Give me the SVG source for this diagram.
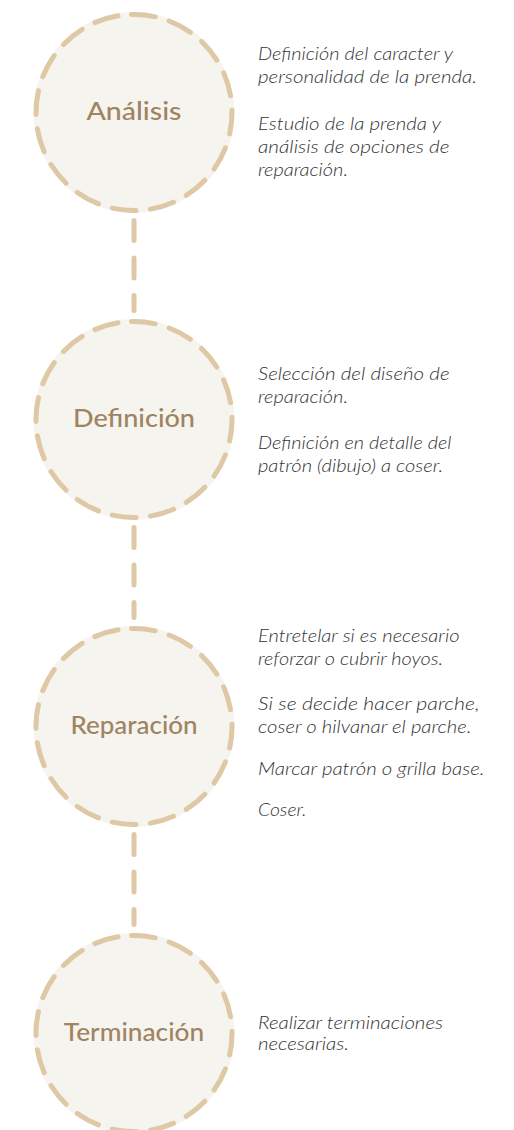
<svg xmlns="http://www.w3.org/2000/svg" width="514" height="1130" viewBox="0 0 514 1130">
<style>
.bg{fill:#f6f4ef;stroke:none}
.ring{fill:none;stroke:#dfc8a5;stroke-width:5;stroke-linecap:round;stroke-dasharray:24 14.48}
.conn{fill:none;stroke:#dfc8a5;stroke-width:5;stroke-linecap:round;stroke-dasharray:20 17.5}
.lbl{font-family:Lato,"Open Sans","Liberation Sans",sans-serif;font-weight:500;font-size:25px;fill:#a08361;text-anchor:middle}
.txt{font-family:Lato,"Open Sans","Liberation Sans",sans-serif;font-weight:300;font-style:italic;font-size:17.5px;fill:#333333}
</style>
<rect width="514" height="1130" fill="#ffffff"/>
<g id="connectors">
<line class="conn" x1="134" y1="220.5" x2="134" y2="310.5"/>
<line class="conn" x1="134" y1="527.5" x2="134" y2="617.5"/>
<line class="conn" x1="134" y1="834.5" x2="134" y2="924.5"/>
</g>
<g id="analisis">
<circle class="bg" cx="134" cy="112.5" r="100.5"/>
<circle class="ring" cx="134" cy="112.5" r="98" transform="rotate(-91.5 134 112.5)"/>
<text class="lbl" x="134" y="120" textLength="95" lengthAdjust="spacingAndGlyphs">Análisis</text>
</g>
<g id="analisis-text">
<text class="txt" x="258" y="59.5" textLength="195" lengthAdjust="spacingAndGlyphs">Definición del caracter y</text>
<text class="txt" x="258" y="83" textLength="219" lengthAdjust="spacingAndGlyphs">personalidad de la prenda.</text>
<text class="txt" x="258" y="129.5" textLength="183" lengthAdjust="spacingAndGlyphs">Estudio de la prenda y</text>
<text class="txt" x="258" y="152.5" textLength="191.5" lengthAdjust="spacingAndGlyphs">análisis de opciones de</text>
<text class="txt" x="258" y="175.5" textLength="90" lengthAdjust="spacingAndGlyphs">reparación.</text>
</g>
<g id="definicion">
<circle class="bg" cx="134" cy="419.5" r="100.5"/>
<circle class="ring" cx="134" cy="419.5" r="98" transform="rotate(-91.5 134 419.5)"/>
<text class="lbl" x="134" y="427" textLength="122" lengthAdjust="spacingAndGlyphs">Definición</text>
</g>
<g id="definicion-text">
<text class="txt" x="258" y="379.5" textLength="191.5" lengthAdjust="spacingAndGlyphs">Selección del diseño de</text>
<text class="txt" x="258" y="402.5" textLength="90" lengthAdjust="spacingAndGlyphs">reparación.</text>
<text class="txt" x="258" y="448.5" textLength="193.5" lengthAdjust="spacingAndGlyphs">Definición en detalle del</text>
<text class="txt" x="258" y="471.5" textLength="185" lengthAdjust="spacingAndGlyphs">patrón (dibujo) a coser.</text>
</g>
<g id="reparacion">
<circle class="bg" cx="134" cy="726.5" r="100.5"/>
<circle class="ring" cx="134" cy="726.5" r="98" transform="rotate(-91.5 134 726.5)"/>
<text class="lbl" x="134" y="734" textLength="127" lengthAdjust="spacingAndGlyphs">Reparación</text>
</g>
<g id="reparacion-text">
<text class="txt" x="258" y="641.5" textLength="201.5" lengthAdjust="spacingAndGlyphs">Entretelar si es necesario</text>
<text class="txt" x="258" y="664.5" textLength="185" lengthAdjust="spacingAndGlyphs">reforzar o cubrir hoyos.</text>
<text class="txt" x="258" y="710" textLength="221.5" lengthAdjust="spacingAndGlyphs">Si se decide hacer parche,</text>
<text class="txt" x="258" y="733" textLength="213.5" lengthAdjust="spacingAndGlyphs">coser o hilvanar el parche.</text>
<text class="txt" x="258" y="775" textLength="226.5" lengthAdjust="spacingAndGlyphs">Marcar patrón o grilla base.</text>
<text class="txt" x="258" y="815.5" textLength="48.5" lengthAdjust="spacingAndGlyphs">Coser.</text>
</g>
<g id="terminacion">
<circle class="bg" cx="134" cy="1033.5" r="100.5"/>
<circle class="ring" cx="134" cy="1033.5" r="98" transform="rotate(-91.5 134 1033.5)"/>
<text class="lbl" x="134" y="1041" textLength="140.5" lengthAdjust="spacingAndGlyphs">Terminación</text>
</g>
<g id="terminacion-text">
<text class="txt" x="258" y="1028.5" textLength="185" lengthAdjust="spacingAndGlyphs">Realizar terminaciones</text>
<text class="txt" x="258" y="1050" textLength="91" lengthAdjust="spacingAndGlyphs">necesarias.</text>
</g>
</svg>
